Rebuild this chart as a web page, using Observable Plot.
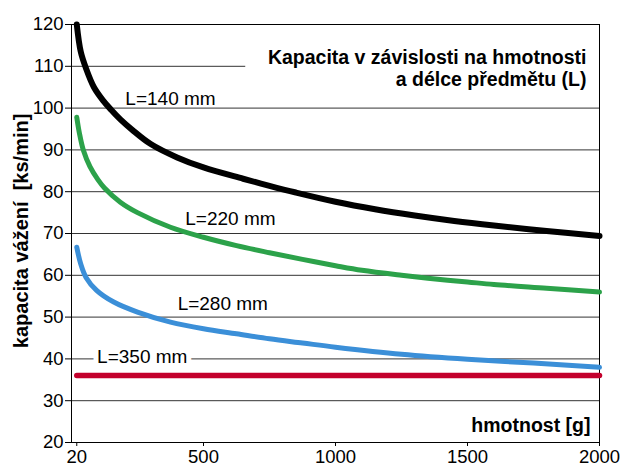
<!DOCTYPE html>
<html><head><meta charset="utf-8">
<script src="https://cdn.jsdelivr.net/npm/d3@7"></script>
<script src="https://cdn.jsdelivr.net/npm/@observablehq/plot@0.6"></script>
<style>html,body{margin:0;padding:0;background:#fff} svg{display:block}</style>
</head><body><div id="chart"></div>
<script>
// ---- data ----
const xTicks = [20, 500, 1000, 1500, 2000];
const yTicks = [20, 30, 40, 50, 60, 70, 80, 90, 100, 110, 120];
const gridLevels = [30, 40, 50, 60, 70, 80, 90, 100, 110];

const seriesNames = ["L=140 mm", "L=220 mm", "L=280 mm", "L=350 mm"];
const seriesColors = ["#000000", "#2ca24a", "#3b8fd8", "#c3002c"];

const l140X = [20, 35, 55, 85, 120, 150, 185, 230, 300, 400, 500, 650, 750, 850, 1000, 1150, 1300, 1450, 1600, 1800, 2000];
const l140Y = [120, 113.5, 109.5, 105, 101.8, 99.6, 97.3, 94.8, 91.4, 88.2, 85.8, 83.1, 81.4, 79.8, 77.6, 75.8, 74.3, 73.0, 71.9, 70.6, 69.4];

const l220X = [20, 30, 45, 70, 100, 125, 185, 250, 375, 500, 625, 750, 875, 1000, 1100, 1250, 1350, 1500, 1600, 1800, 2000];
const l220Y = [97.8, 94, 89.9, 86, 82.9, 80.9, 77.5, 75, 71.5, 69.1, 67.1, 65.4, 63.8, 62.3, 61.2, 60.0, 59.3, 58.4, 57.8, 56.9, 56];

const l280X = [20, 35, 55, 95, 160, 250, 375, 500, 625, 750, 875, 1000, 1250, 1500, 1750, 2000];
const l280Y = [66.7, 62.7, 59.5, 56.4, 53.6, 51.2, 48.8, 47.2, 46, 44.8, 43.8, 42.8, 41.1, 39.9, 39, 38];

const l350X = [20, 500, 1000, 1500, 2000];
const l350Y = [36, 36, 36, 36, 36];

const titleText = "Kapacita v závislosti na hmotnosti\na délce předmětu (L)";
const xLabel = "hmotnost [g]";
const yLabel = "kapacita vážení \u00a0[ks/min]";

// label anchors (data units)
const labelAt = [
  {name: seriesNames[0], x: 204, y: 102.2},
  {name: seriesNames[1], x: 431, y: 73.5},
  {name: seriesNames[2], x: 402, y: 53.1}
];
const boxedLabelAt = [
  {name: seriesNames[3], x: 97, y: 40.4}
];

// ---- build table ----
const allX = [l140X, l220X, l280X, l350X];
const allY = [l140Y, l220Y, l280Y, l350Y];
const rows = [];
seriesNames.forEach((name, i) => {
  allX[i].forEach((x, j) => rows.push({series: name, x, y: allY[i][j]}));
});
const widths = {"L=140 mm": 6, "L=220 mm": 5, "L=280 mm": 5, "L=350 mm": 5.5};

const font = "'Liberation Sans', Arial, Helvetica, sans-serif";

const chart = Plot.plot({
  width: 628,
  height: 466,
  marginLeft: 71,
  marginRight: 29,
  marginTop: 24,
  marginBottom: 24,
  style: {fontFamily: font, color: "#000", background: "#fff", overflow: "visible"},
  x: {domain: [0, 2000]},
  y: {domain: [20, 120]},
  marks: [
    Plot.ruleY(gridLevels, {stroke: "#333", strokeWidth: 1}),
    Plot.rect([0], {x1: 660, x2: 2000, y1: 101.4, y2: 119, fill: "#fff"}),
    Plot.frame({stroke: "#000", strokeWidth: 1}),
    Plot.axisY({ticks: yTicks, tickSize: 6, tickPadding: 2, label: null, fontSize: 18.5, stroke: "#000"}),
    Plot.axisX({ticks: xTicks, tickSize: 4, tickPadding: 3, label: null, fontSize: 18.5, stroke: "#000", tickFormat: d => String(d)}),
    ...seriesNames.map((name, i) =>
      Plot.line(rows.filter(d => d.series === name), {
        x: "x", y: "y", stroke: seriesColors[i], strokeWidth: widths[name],
        curve: "catmull-rom", strokeLinecap: "round", strokeLinejoin: "round"
      })
    ),
    Plot.text(labelAt, {
      x: "x", y: "y", text: "name", textAnchor: "start", lineAnchor: "middle",
      fontSize: 19, fill: "#000"
    }),
    Plot.text(boxedLabelAt, {
      x: "x", y: "y", text: "name", textAnchor: "start", lineAnchor: "middle",
      fontSize: 19, fill: "#000", stroke: "#fff", strokeWidth: 10
    }),
    Plot.text([titleText], {
      frameAnchor: "top-right", textAnchor: "end", lineAnchor: "top",
      dx: -13, dy: 24, lineHeight: 1.11, fontSize: 19.5, fontWeight: "bold", fill: "#000"
    }),
    Plot.text([xLabel], {
      frameAnchor: "bottom-right", textAnchor: "end", lineAnchor: "middle",
      dx: -9, dy: -16.5, fontSize: 19.5, fontWeight: "bold", fill: "#000"
    }),
    Plot.text([yLabel], {
      frameAnchor: "left", textAnchor: "middle", lineAnchor: "middle", rotate: -90,
      dx: -50, dy: -2.6, fontSize: 20, fontWeight: "bold", fill: "#000"
    })
  ]
});
document.getElementById("chart").appendChild(chart);
</script>
</body></html>
